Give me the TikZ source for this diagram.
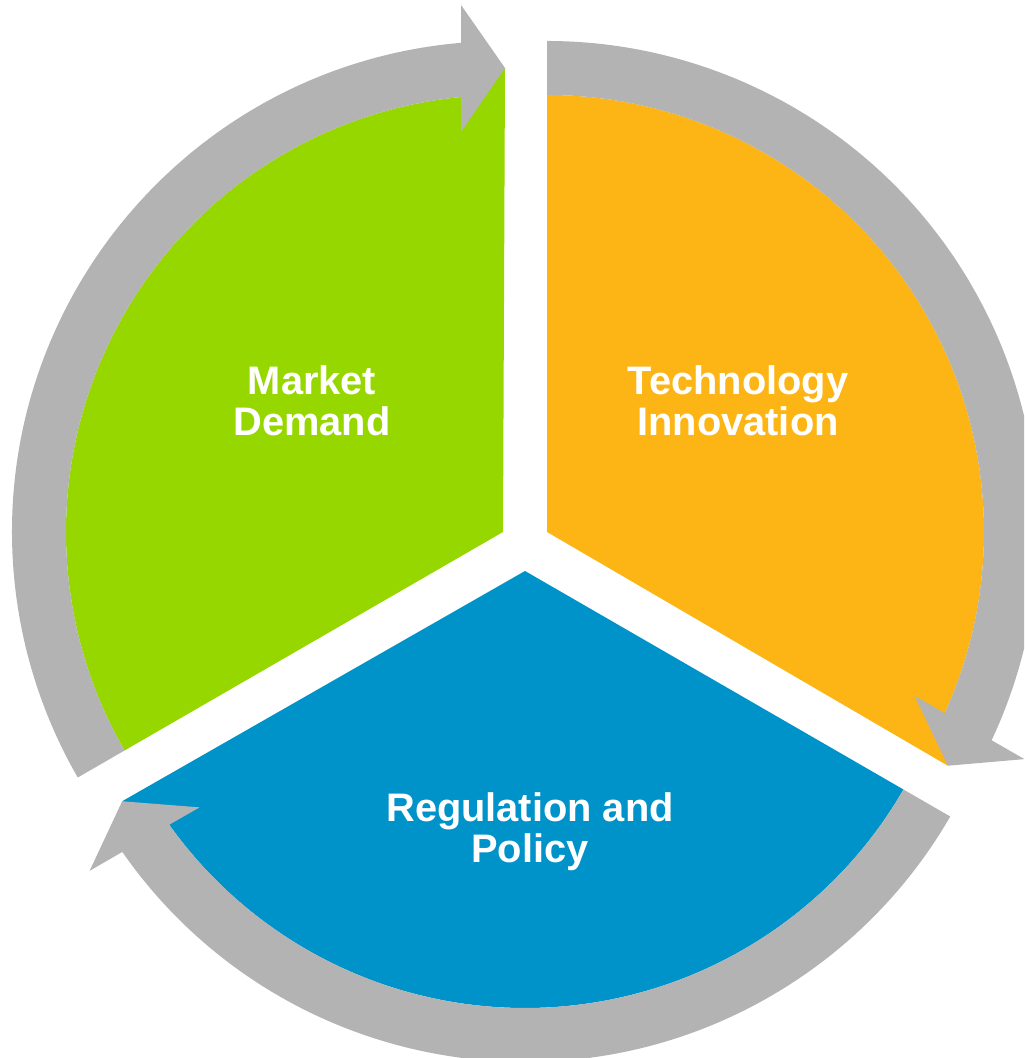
\documentclass[tikz,border=0pt]{standalone}
\usepackage{fontspec}
\setmainfont{Liberation Sans}

\definecolor{mdgreen}{RGB}{151,215,0}
\definecolor{tigold}{RGB}{253,181,22}
\definecolor{rpblue}{RGB}{0,147,201}
\definecolor{ringgray}{RGB}{179,179,179}

\tikzset{
	% one piece of the cycle: sector and its gray arrow, leading edge at 90 deg
	pics/segment/.style={code={
		\fill[#1] (0,0) -- (210:437) arc[start angle=210, end angle=95.5, radius=437] -- (2,464) -- cycle;
		\fill[ringgray] (210:437) arc[start angle=210, end angle=95.5, radius=437]
			-- (-42,400) -- (2,464) -- (-42,527) -- (94.9:491)
			arc[start angle=94.9, end angle=210, radius=491] -- cycle;
	}},
	segtext/.style={text=white, align=center, font=\bfseries\fontsize{19.9}{20.3}\selectfont}
}

\begin{document}
\begin{tikzpicture}[x=0.5pt, y=0.5pt]
		\useasboundingbox (0,0) rectangle (1024,1058);
		\clip (0,0) rectangle (1024,1058);

		% market demand
		\pic at (503,526) {segment=mdgreen};

		% technology innovation
		\pic[rotate=-120] at (547,526) {segment=tigold};

		% regulation and policy
		\pic[rotate=120] at (525,487) {segment=rpblue};

		\node[segtext] (market) at (312,657) {Market\\Demand};
		\node[segtext] (tech) at (738,657) {Technology\\Innovation};
		\node[segtext] (policy) at (530,226) {Regulation and\\Policy};

	\end{tikzpicture}
\end{document}
